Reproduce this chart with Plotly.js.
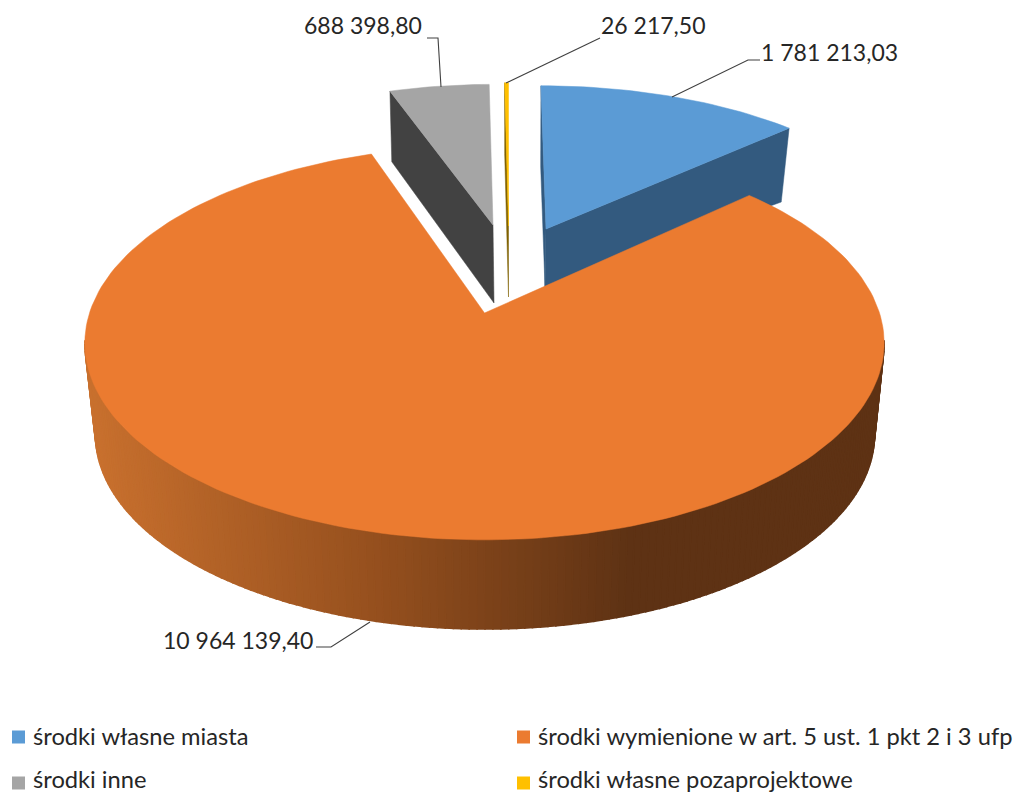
<!DOCTYPE html>
<html><head><meta charset="utf-8">
<script src="https://cdn.plot.ly/plotly-3.0.1.min.js"></script>
<style>html,body{margin:0;padding:0;background:#fff;overflow:hidden}</style>
</head><body><div id="chart" style="width:1017px;height:794px"></div>
<script>
// ---- data ----
const categories = ['środki własne miasta','środki wymienione w art. 5 ust. 1 pkt 2 i 3 ufp','środki inne','środki własne pozaprojektowe'];
const values = [1781213.03, 10964139.40, 688398.80, 26217.50];
const valueLabels = ['1 781 213,03','10 964 139,40','688 398,80','26 217,50'];

// ---- styling and projection of the tilted, exploded pie ----
const FONT = 'Lato, "Open Sans", sans-serif';
const TEXT = '#262626';
const topColors = ['#5B9BD5','#EB7B30','#A5A5A5','#FFC000'];
const wallColors = ['#335A7F','#5E3214','#424242','#7F6000'];
const P = 0.152;
const discs = [
  {top:{x:546,y:229,a:368,b:165,s:-5.8}, bot:{x:545,y:287,a:357,b:139,s:-5}},
  {top:{x:484.5,y:313,a:395,b:192.4,s:0}, bot:{x:485,y:405,a:385,b:190,s:0}},
  {top:{x:493,y:225,a:360,b:162,s:0}, bot:{x:494,y:303,a:357,b:171,s:0}},
  {top:{x:508.5,y:226,a:364,b:165,s:0}, bot:{x:508.5,y:297,a:360,b:165,s:0}}
];
function proj(d, deg){
  const t = deg*Math.PI/180, X = Math.sin(t), Y = Math.cos(t), w = 1+P*Y;
  return [d.x + d.a*X/w + d.s*Y/w, d.y - d.b*Y/w];
}
const total = values.reduce((a,b)=>a+b,0);
let acc = 0;
const spans = values.map(v=>{const s=acc/total*360; acc+=v; return [s,acc/total*360];});

function poly(pts,color,extra,lw){
  return Object.assign({type:'scatter',mode:'lines',x:pts.map(p=>p[0]),y:pts.map(p=>p[1]),
    fill:'toself',fillcolor:color,line:{color:color,width:lw===undefined?0.5:lw},hoverinfo:'skip',showlegend:false},extra||{});
}
function topFace(i){
  const d=discs[i].top,[a,b]=spans[i],pts=[[d.x,d.y]];
  const n=Math.max(2,Math.ceil((b-a)/1.5));
  for(let k=0;k<=n;k++)pts.push(proj(d,a+(b-a)*k/n));
  pts.push([d.x,d.y]);
  return poly(pts,topColors[i],{name:categories[i],hoverinfo:'name'});
}
function radialWall(i,deg){
  const D=discs[i];
  return poly([[D.top.x,D.top.y],proj(D.top,deg),proj(D.bot,deg),[D.bot.x,D.bot.y],[D.top.x,D.top.y]],wallColors[i]);
}
function mix(x){
  const st=[[90,[200,112,46]],[370,[150,80,30]],[630,[94,50,20]]];
  if(x<=st[0][0])return st[0][1];
  for(let i=1;i<st.length;i++){
    if(x<=st[i][0]){const f=(x-st[i-1][0])/(st[i][0]-st[i-1][0]);
      return st[i-1][1].map((c,j)=>c+(st[i][1][j]-c)*f);}
  }
  return st[2][1];
}
function outerWall(){
  const D=discs[1],out=[];
  for(let a=98;a<262;a+=1){
    const p1=proj(D.top,a),p2=proj(D.top,a+1),p3=proj(D.bot,a+1),p4=proj(D.bot,a);
    const c=mix((p1[0]+p2[0])/2).map(Math.round);
    out.push(poly([p1,p2,p3,p4,p1],`rgb(${c[0]},${c[1]},${c[2]})`,null,1.6));
  }
  return out;
}
function leader(pts){
  return {type:'scatter',mode:'lines',x:pts.map(p=>p[0]),y:pts.map(p=>p[1]),
    line:{color:'#404040',width:1.1},hoverinfo:'skip',showlegend:false};
}
const legendPos = [{x:18.5,y:737},{x:523.5,y:737},{x:18.5,y:783},{x:523.5,y:783}];
const legendTextY = [736,736,778.5,778.5];
function legendSwatch(i){
  return {type:'scatter',mode:'markers',x:[legendPos[i].x],y:[legendPos[i].y],name:categories[i],
    marker:{symbol:'square',size:13,color:topColors[i]},showlegend:false,hoverinfo:'name'};
}

const traces = [
  radialWall(2,spans[2][0]), topFace(2),
  radialWall(3,spans[3][0]), topFace(3),
  radialWall(0,spans[0][0]), radialWall(0,spans[0][1]), topFace(0),
  ...outerWall(), topFace(1),
  leader([[672,97],[748,60],[760,60]]),
  leader([[370,622],[331,647],[316,647]]),
  leader([[427,38],[438,38],[441,87]]),
  leader([[600,38],[506,83]]),
  legendSwatch(0),legendSwatch(1),legendSwatch(2),legendSwatch(3)
];

const labelPos = [
  {x:759,y:52,xanchor:'left'},
  {x:315,y:640,xanchor:'right'},
  {x:424,y:25,xanchor:'right'},
  {x:599,y:25,xanchor:'left'}
];
const annotations = valueLabels.map((t,i)=>Object.assign({text:t,xref:'x',yref:'y',showarrow:false,
  yanchor:'middle',font:{family:FONT,size:23,color:TEXT}},labelPos[i]));
categories.forEach((t,i)=>annotations.push({text:t,xref:'x',yref:'y',showarrow:false,xanchor:'left',yanchor:'middle',borderpad:0,
  x:legendPos[i].x+13.5,y:legendTextY[i],font:{family:FONT,size:23.7,color:TEXT}}));

const layout = {
  width:1017,height:794,margin:{l:0,r:0,t:0,b:0,pad:0,autoexpand:false},paper_bgcolor:'#fff',plot_bgcolor:'#fff',
  xaxis:{range:[0,1017],visible:false,fixedrange:true},
  yaxis:{range:[794,0],visible:false,fixedrange:true},
  annotations:annotations,showlegend:false
};
Plotly.newPlot('chart',traces,layout,{displayModeBar:false,responsive:false});
</script></body></html>
